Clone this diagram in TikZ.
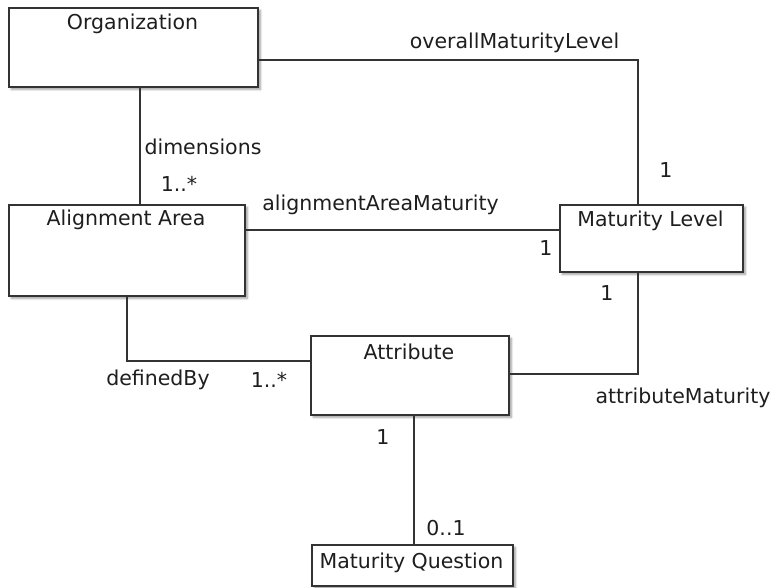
\documentclass[tikz,border=0pt]{standalone}
\usepackage{fontspec}
\setmainfont{DejaVu Sans}
\usetikzlibrary{shadows.blur}
\definecolor{ink}{HTML}{333333}
\definecolor{txt}{HTML}{1E1E1E}
\tikzset{
  classbox/.style={draw=ink, line width=1.6pt, fill=white, anchor=north west,
    inner sep=0pt, blur shadow={shadow xshift=2.5pt, shadow yshift=-2.5pt,
    shadow blur steps=6, shadow opacity=40}},
  title/.style={text=txt, font=\fontsize{20.5}{23}\selectfont, inner sep=0pt},
  lbl/.style={text=txt, font=\fontsize{20.5}{23}\selectfont, inner sep=0pt},
  assoc/.style={draw=ink, line width=1.5pt}
}
\begin{document}
\begin{tikzpicture}[x=1pt, y=-1pt]
\useasboundingbox (0,0) rectangle (773,587);

% classes
\node[classbox, minimum width=249pt, minimum height=79pt] (org) at (8,7) {};
\node[classbox, minimum width=236pt, minimum height=91pt] (align) at (8,204) {};
\node[classbox, minimum width=183pt, minimum height=67pt] (ml) at (559,204) {};
\node[classbox, minimum width=198pt, minimum height=79pt] (attr) at (310,335) {};
\node[classbox, minimum width=201pt, minimum height=41pt] (mq) at (311,544) {};

\node[title] (orgT) at (132.5,24) {Organization};
\node[title] (alignT) at (126,220) {Alignment Area};
\node[title] (mlT) at (650.5,221) {Maturity Level};
\node[title] (attrT) at (409,352) {Attribute};
\node[title] (mqT) at (411.5,563) {Maturity Question};

% routing points
\coordinate (c1) at (638,60);
\coordinate (c2) at (140,0);
\coordinate (c3) at (0,230);
\coordinate (c4) at (638,374);
\coordinate (c5) at (127,361);
\coordinate (c6) at (414,0);

% associations
\draw[assoc] (c1 -| org.east) -- (c1) -- (c1 |- ml.north);
\draw[assoc] (c2 |- org.south) -- (c2 |- align.north);
\draw[assoc] (c3 -| align.east) -- (c3 -| ml.west);
\draw[assoc] (c4 |- ml.south) -- (c4) -- (c4 -| attr.east);
\draw[assoc] (c5 |- align.south) -- (c5) -- (c5 -| attr.west);
\draw[assoc] (c6 |- attr.south) -- (c6 |- mq.north);

% role names and multiplicities
\node[lbl] (l1) at (514.5,43) {overallMaturityLevel};
\node[lbl] (l2) at (666,170) {1};
\node[lbl] (l3) at (203,147) {dimensions};
\node[lbl] (l4) at (179,184) {1..*};
\node[lbl] (l5) at (380.5,205) {alignmentAreaMaturity};
\node[lbl] (l6) at (546,248) {1};
\node[lbl] (l7) at (607,293) {1};
\node[lbl] (l8) at (683,398) {attributeMaturity};
\node[lbl] (l9) at (158,380) {definedBy};
\node[lbl] (l10) at (269,380) {1..*};
\node[lbl] (l11) at (383,437) {1};
\node[lbl] (l12) at (446,528) {0..1};
\end{tikzpicture}
\end{document}
